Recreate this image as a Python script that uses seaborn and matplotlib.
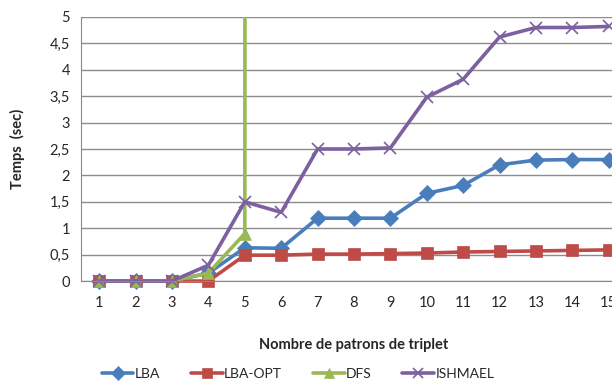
import numpy as np
import pandas as pd
import seaborn as sns
import matplotlib
matplotlib.use("Agg")
import matplotlib.pyplot as plt
from matplotlib.lines import Line2D
from matplotlib.patches import Rectangle

# Data
patrons = list(range(1, 16))
lba = [0, 0, 0, 0.15, 0.63, 0.62, 1.19, 1.19, 1.19, 1.66, 1.81, 2.2, 2.29, 2.3, 2.3]
lba_opt = [0, 0, 0, 0, 0.49, 0.49, 0.51, 0.51, 0.52, 0.53, 0.55, 0.56, 0.57, 0.58, 0.59]
# DFS explodes after 5 patterns (off the chart)
dfs = [0, 0, 0, 0.15, 0.9, 1000, np.nan, np.nan, np.nan, np.nan, np.nan, np.nan, np.nan, np.nan, np.nan]
ishmael = [0, 0, 0, 0.3, 1.5, 1.3, 2.5, 2.5, 2.52, 3.48, 3.82, 4.62, 4.8, 4.8, 4.82]

series = ["LBA", "LBA-OPT", "DFS", "ISHMAEL"]
colors = ["#4A7EBB", "#BE4B48", "#98B954", "#7D60A0"]
markers = ["D", "s", "^", "x"]

df = pd.DataFrame({
    "x": patrons * 4,
    "temps": lba + lba_opt + dfs + ishmael,
    "serie": [s for s in series for _ in patrons],
})

sns.set_style("white")
plt.rcParams["font.family"] = ["Lato", "DejaVu Sans"]

fig = plt.figure(figsize=(6.12, 3.85), dpi=100)
ax = fig.add_axes([0.1324, 0.270, 0.892, 0.686])

for s, c, m in zip(series, colors, markers):
    d = df[df["serie"] == s]
    sns.lineplot(data=d, x="x", y="temps", ax=ax, color=c, marker=m,
                 linewidth=2.6, markersize=8 if m != "x" else 9,
                 markeredgecolor=c, markeredgewidth=1.2 if m == "x" else 0.5,
                 legend=False)

# markers at 0 should not be cut by the axis; only clip the top (DFS goes off the chart)
clip = Rectangle((-0.05, -0.1), 1.1, 1.1, transform=ax.transAxes, fill=False, visible=False)
ax.add_patch(clip)
for line in ax.lines:
    line.set_clip_path(clip)

ax.set_xlim(0.5, 15.5)
ax.set_ylim(0, 5)
ax.set_yticks(np.arange(0, 5.01, 0.5))
ax.set_yticklabels(["0", "0,5", "1", "1,5", "2", "2,5", "3", "3,5", "4", "4,5", "5"])
ax.set_xticks(patrons)
ax.set_xticks(np.arange(0.5, 15.6, 1), minor=True)
ax.tick_params(axis="x", which="major", length=0, pad=11, labelsize=10.5)
ax.tick_params(axis="x", which="minor", length=5, color="#888888", direction="out")
ax.tick_params(axis="y", length=4, color="#888888", labelsize=10.5, pad=4)
ax.yaxis.grid(True, color="#8c8c8c", linewidth=1)
ax.set_axisbelow(True)
for side in ["top", "right"]:
    ax.spines[side].set_visible(False)
ax.spines["left"].set_color("#888888")
ax.spines["bottom"].set_color("#888888")

ax.set_xlabel("Nombre de patrons de triplet", fontsize=10.5, fontweight="bold", labelpad=20)
ax.set_ylabel("Temps  (sec)", fontsize=10.5, fontweight="bold", labelpad=18)

# legend with smaller markers than the plot
handles = [Line2D([], [], color=c, marker=m, linewidth=2.6, markersize=7,
                  markeredgecolor=c, markeredgewidth=1.2 if m == "x" else 0.5)
           for c, m in zip(colors, markers)]
fig.legend(handles, series, loc="center", bbox_to_anchor=(0.487, 0.028), ncol=4,
           frameon=False, fontsize=10, handlelength=2.3, handletextpad=0.1,
           columnspacing=2.2)

fig.savefig("out.png", dpi=100)
